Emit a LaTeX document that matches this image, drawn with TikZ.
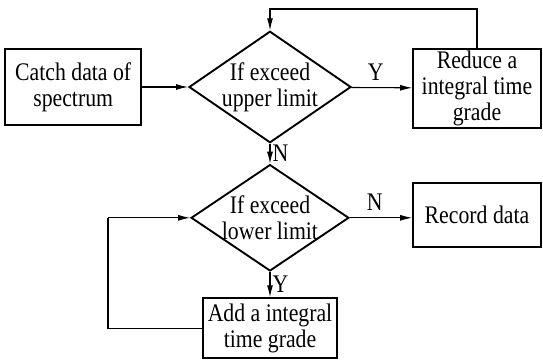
\documentclass[tikz,border=0pt]{standalone}
\usepackage{fontspec}
\setmainfont[FakeStretch=0.86]{Liberation Serif}
\usetikzlibrary{arrows.meta}
\usetikzlibrary{shapes.geometric}

\begin{document}
\begin{tikzpicture}[
    font=\fontsize{12}{12.3}\selectfont,
    stepbox/.style={draw, line width=0.9pt, align=center, inner sep=1pt},
    testbox/.style={draw, diamond, line width=0.9pt, align=center, inner sep=-4pt},
    flow/.style={line width=0.5pt, -{Latex[length=2mm,width=1mm]}},
    loop/.style={line width=0.5pt}
  ]
    \useasboundingbox (0, 0) rectangle (9.05, -6.0);

    \node [stepbox, minimum width=2.27cm, minimum height=1.27cm] (catch) at (1.22, -1.45) {Catch data of\\spectrum};
    \node [testbox, minimum width=2.7cm, minimum height=1.7cm] (upper) at (4.5, -1.45) {If exceed\\upper limit};
    \node [stepbox, minimum width=2.13cm, minimum height=1.27cm] (reduce) at (7.95, -1.47) {Reduce a\\integral time\\grade};

    \node [testbox, minimum width=2.63cm, minimum height=1.6cm] (lower) at (4.5, -3.63) {If exceed\\lower limit};
    \node [stepbox, minimum width=2.13cm, minimum height=1.07cm] (record) at (7.95, -3.58) {Record data};
    \node [stepbox, minimum width=2.23cm, minimum height=1.0cm] (add) at (4.5, -5.47) {Add a integral\\time grade};

    \coordinate (topturn) at (0, -0.15);
    \coordinate (leftturn) at (1.8, 0);

    \draw [flow] (catch) -- (upper);
    \draw [flow] (upper) -- node [above, pos=0.4] {Y} (reduce);
    \draw [flow] (upper) -- node [right, inner sep=1pt] {N} (lower);
    \draw [flow] (reduce.north) |- (topturn -| upper.north) -- (upper.north);

    \draw [flow] (lower.east) -- node [above, pos=0.4] {N} (record.west |- lower.east);
    \draw [flow] (lower) -- node [right, inner sep=1pt] {Y} (add);
    \draw [loop] (add.west) -- (leftturn |- add.west) -- (leftturn |- lower.west);
    \draw [flow] (leftturn |- lower.west) -- (lower.west);
  \end{tikzpicture}
\end{document}
